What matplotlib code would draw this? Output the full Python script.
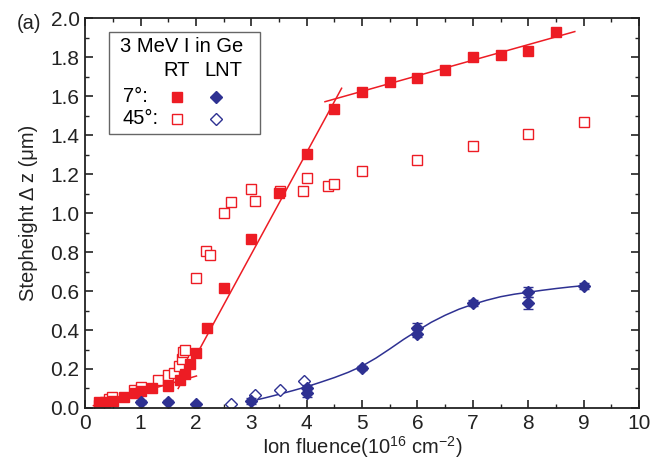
import matplotlib
matplotlib.use("Agg")
import matplotlib.pyplot as plt
from matplotlib.patches import Rectangle
from matplotlib.ticker import MultipleLocator, FormatStrFormatter

plt.rcParams['font.family'] = ['Liberation Sans', 'DejaVu Sans']
plt.rcParams['axes.unicode_minus'] = False
plt.rcParams['mathtext.default'] = 'regular'

RED = '#ed1c24'
BLUE = '#2e3192'

# RT, 7 deg (filled squares)
rt7_x = [0.25, 0.36, 0.50, 0.70, 0.90, 1.0, 1.2, 1.5, 1.71, 1.80, 1.90, 2.0, 2.2, 2.5,
         3.0, 3.5, 4.0, 4.5, 5.0, 5.5, 6.0, 6.5, 7.0, 7.5, 8.0, 8.5]
rt7_y = [0.029, 0.032, 0.037, 0.057, 0.077, 0.086, 0.101, 0.115, 0.145, 0.175, 0.224, 0.281, 0.412, 0.618,
         0.867, 1.105, 1.304, 1.533, 1.624, 1.675, 1.694, 1.733, 1.800, 1.812, 1.833, 1.929]

# RT, 45 deg (open squares)
rt45_x = [0.25, 0.44, 0.49, 0.88, 1.0, 1.31, 1.49, 1.61, 1.70, 1.74, 1.77, 1.80, 2.0, 2.19, 2.25,
          2.50, 2.63, 3.0, 3.07, 3.51, 3.94, 4.0, 4.39, 4.5, 5.0, 6.0, 7.0, 8.0, 9.0]
rt45_y = [0.015, 0.047, 0.058, 0.092, 0.109, 0.142, 0.169, 0.178, 0.217, 0.250, 0.285, 0.298, 0.669, 0.808, 0.785,
          1.003, 1.059, 1.123, 1.061, 1.116, 1.116, 1.181, 1.141, 1.151, 1.215, 1.273, 1.347, 1.408, 1.468]

# LNT, 7 deg (filled diamonds, with error bars)
lnt7_x = [1.0, 1.5, 2.0, 3.0, 4.0, 4.0, 5.0, 6.0, 6.0, 7.0, 8.0, 8.0, 9.0]
lnt7_y = [0.029, 0.033, 0.021, 0.035, 0.100, 0.075, 0.205, 0.408, 0.382, 0.537, 0.597, 0.540, 0.628]
lnt7_err = [0.01, 0.01, 0.005, 0.015, 0.02, 0.02, 0.01, 0.03, 0.02, 0.015, 0.025, 0.03, 0.015]

# LNT, 45 deg (open diamonds)
lnt45_x = [2.63, 3.07, 3.51, 3.96]
lnt45_y = [0.019, 0.065, 0.092, 0.137]

# fit lines
fit1_x = [0.15, 2.01]
fit1_y = [0.012, 0.164]
fit2_x = [1.68, 4.63]
fit2_y = [0.10, 1.641]
fit3_x = [4.33, 8.84]
fit3_y = [1.572, 1.932]
fitb_x = [3.0, 3.25, 3.5, 3.75, 4.0, 4.25, 4.5, 4.75, 5.0, 5.25, 5.5, 5.75, 6.0,
          6.25, 6.5, 6.75, 7.0, 7.25, 7.5, 7.75, 8.0, 8.25, 8.5, 8.75, 9.0]
fitb_y = [0.035, 0.052, 0.070, 0.089, 0.109, 0.132, 0.156, 0.183, 0.215, 0.256, 0.303, 0.352, 0.397,
          0.440, 0.476, 0.507, 0.532, 0.553, 0.571, 0.584, 0.594, 0.604, 0.613, 0.621, 0.628]

fig = plt.figure(figsize=(6.65, 4.70), dpi=100)
ax = fig.add_axes([0.128, 0.132, 0.833, 0.829])

for fx, fy in [(fit1_x, fit1_y), (fit2_x, fit2_y), (fit3_x, fit3_y)]:
    ax.plot(fx, fy, color=RED, lw=1.1)
ax.plot(fitb_x, fitb_y, color=BLUE, lw=1.1)

ax.plot(rt45_x, rt45_y, 's', ms=6.5, mfc='white', mec=RED, mew=1.0, ls='none')
ax.plot(rt7_x, rt7_y, 's', ms=6.5, color=RED, ls='none')
ax.plot(lnt45_x, lnt45_y, 'D', ms=6, mfc='white', mec=BLUE, mew=1.0, ls='none')
ax.errorbar(lnt7_x, lnt7_y, yerr=lnt7_err, fmt='D', ms=6.5, color=BLUE, ecolor=BLUE,
            elinewidth=1, capsize=3.5)

ax.set_xlim(0, 10)
ax.set_ylim(0, 2.0)
ax.xaxis.set_major_locator(MultipleLocator(1))
ax.xaxis.set_minor_locator(MultipleLocator(0.5))
ax.yaxis.set_major_locator(MultipleLocator(0.2))
ax.yaxis.set_minor_locator(MultipleLocator(0.1))
ax.yaxis.set_major_formatter(FormatStrFormatter('%.1f'))
ax.tick_params(which='both', direction='in', top=True, right=True, labelsize=15,
               color='#222222', labelcolor='#222222')
ax.tick_params(which='major', length=6, width=1.2, pad=4)
ax.tick_params(which='minor', length=3, width=1.0)
for s in ax.spines.values():
    s.set_linewidth(1.3)
    s.set_color('#222222')

ax.set_xlabel('Ion fluence(10$^{16}$ cm$^{-2}$)', fontsize=14.5, labelpad=1, color='#222222')
ax.set_ylabel('Stepheight \u0394 z (\u03bcm)', fontsize=14.5, labelpad=9, color='#222222')
fig.text(0.025, 0.951, '(a)', fontsize=14.5, va='center', color='#222222')

# legend box
ax.add_patch(Rectangle((0.043, 0.702), 0.273, 0.263, transform=ax.transAxes,
                       fill=False, ec='#666666', lw=1.0))
ax.text(0.175, 0.927, '3 MeV I in Ge', transform=ax.transAxes, fontsize=14.5, ha='center', va='center')
ax.text(0.165, 0.867, 'RT', transform=ax.transAxes, fontsize=14.5, ha='center', va='center')
ax.text(0.25, 0.867, 'LNT', transform=ax.transAxes, fontsize=14.5, ha='center', va='center')
ax.text(0.068, 0.800, '7\u00b0:', transform=ax.transAxes, fontsize=14.5, va='center')
ax.text(0.068, 0.742, '45\u00b0:', transform=ax.transAxes, fontsize=14.5, va='center')
ax.plot([0.165], [0.799], 's', ms=6.5, color=RED, transform=ax.transAxes)
ax.plot([0.236], [0.799], 'D', ms=6.5, color=BLUE, transform=ax.transAxes)
ax.plot([0.165], [0.742], 's', ms=6.5, mfc='white', mec=RED, mew=1.0, transform=ax.transAxes)
ax.plot([0.236], [0.742], 'D', ms=6, mfc='white', mec=BLUE, mew=1.0, transform=ax.transAxes)

fig.savefig('out.png', dpi=100)
